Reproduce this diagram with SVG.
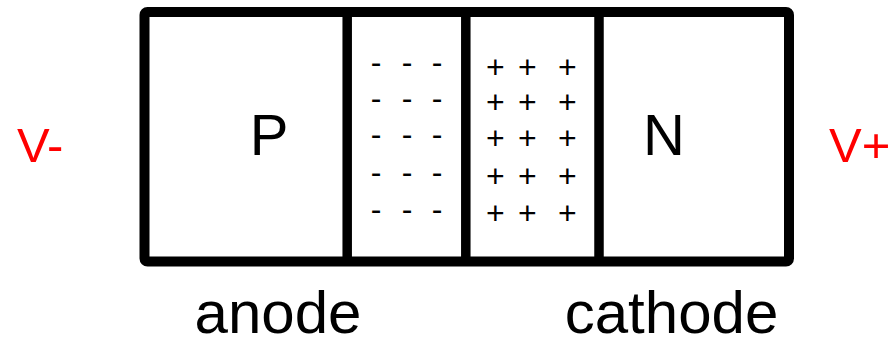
<svg xmlns="http://www.w3.org/2000/svg" width="890" height="339" viewBox="0 0 890 339">
<style>
.t{font-family:"Liberation Sans",Arial,sans-serif;fill:#000}
.big{font-size:58px;text-anchor:middle}
.lbl{font-size:60px;text-anchor:middle}
.v{font-family:"Liberation Sans",Arial,sans-serif;font-size:49px;fill:#ff0000}
.ch{font-family:"Liberation Sans",Arial,sans-serif;font-size:32px;text-anchor:middle;fill:#000}
.frame{fill:none;stroke:#000;stroke-width:10;stroke-linejoin:round}
.div{stroke:#000;stroke-width:9.5}
</style>
<rect width="890" height="339" fill="#fff"/>
<g id="device">
<rect class="frame" x="144.5" y="12" width="644.5" height="249.5" rx="3"/>
<line class="div" x1="347.2" y1="12" x2="347.2" y2="261.5"/>
<line class="div" x1="465.8" y1="12" x2="465.8" y2="261.5"/>
<line class="div" x1="599" y1="12" x2="599" y2="261.5"/>
</g>
<g id="p-region"><text class="t big" x="269" y="155">P</text></g>
<g id="n-region"><text class="t big" x="664" y="155">N</text></g>
<g id="depletion-neg">
<text class="ch" y="73.3"><tspan x="376">-</tspan><tspan x="407">-</tspan><tspan x="437">-</tspan></text>
<text class="ch" y="109.3"><tspan x="376">-</tspan><tspan x="407">-</tspan><tspan x="437">-</tspan></text>
<text class="ch" y="145.3"><tspan x="376">-</tspan><tspan x="407">-</tspan><tspan x="437">-</tspan></text>
<text class="ch" y="183.3"><tspan x="376">-</tspan><tspan x="407">-</tspan><tspan x="437">-</tspan></text>
<text class="ch" y="220.3"><tspan x="376">-</tspan><tspan x="407">-</tspan><tspan x="437">-</tspan></text>
</g>
<g id="depletion-pos">
<text class="ch" y="77.5"><tspan x="495.3">+</tspan><tspan x="527.3">+</tspan><tspan x="567.3">+</tspan></text>
<text class="ch" y="113.2"><tspan x="495.3">+</tspan><tspan x="527.3">+</tspan><tspan x="567.3">+</tspan></text>
<text class="ch" y="149.2"><tspan x="495.3">+</tspan><tspan x="527.3">+</tspan><tspan x="567.3">+</tspan></text>
<text class="ch" y="187.2"><tspan x="495.3">+</tspan><tspan x="527.3">+</tspan><tspan x="567.3">+</tspan></text>
<text class="ch" y="223.8"><tspan x="495.3">+</tspan><tspan x="527.3">+</tspan><tspan x="567.3">+</tspan></text>
</g>
<g id="v-minus"><text class="v" x="17" y="161.7">V-</text></g>
<g id="v-plus"><text class="v" x="829" y="161.7">V+</text></g>
<g id="anode"><text class="t lbl" x="278" y="333">anode</text></g>
<g id="cathode"><text class="t lbl" x="671.5" y="333">cathode</text></g>
</svg>
